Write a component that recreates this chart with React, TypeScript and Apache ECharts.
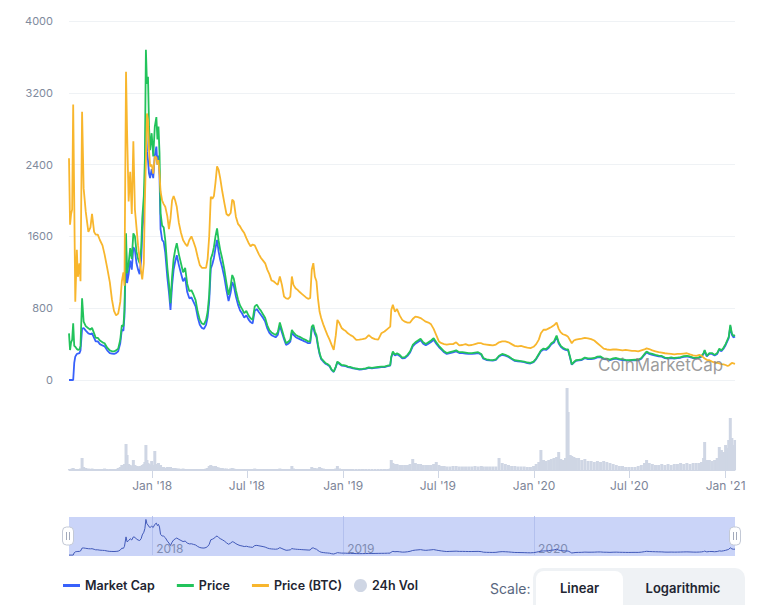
import React, { useEffect, useRef } from "react";
import * as echarts from "echarts";

const dates: string[] = [
  "2017-07-26","2017-07-28","2017-07-30","2017-08-01","2017-08-03","2017-08-05","2017-08-07","2017-08-10","2017-08-12","2017-08-15",
  "2017-08-17","2017-08-20","2017-08-23","2017-08-27","2017-09-01","2017-09-05","2017-09-08","2017-09-12","2017-09-15","2017-09-19",
  "2017-09-23","2017-09-28","2017-10-02","2017-10-07","2017-10-12","2017-10-16","2017-10-20","2017-10-24","2017-10-28","2017-11-01",
  "2017-11-04","2017-11-07","2017-11-09","2017-11-12","2017-11-14","2017-11-17","2017-11-20","2017-11-23","2017-11-26","2017-11-29",
  "2017-12-02","2017-12-05","2017-12-08","2017-12-11","2017-12-13","2017-12-16","2017-12-18","2017-12-20","2017-12-22","2017-12-24",
  "2017-12-26","2017-12-28","2017-12-31","2018-01-03","2018-01-06","2018-01-09","2018-01-11","2018-01-13","2018-01-15","2018-01-17",
  "2018-01-20","2018-01-23","2018-01-26","2018-01-30","2018-02-02","2018-02-05","2018-02-08","2018-02-11","2018-02-14","2018-02-17",
  "2018-02-21","2018-02-25","2018-03-01","2018-03-05","2018-03-09","2018-03-13","2018-03-17","2018-03-21","2018-03-25","2018-03-29",
  "2018-04-02","2018-04-06","2018-04-10","2018-04-14","2018-04-17","2018-04-20","2018-04-23","2018-04-26","2018-04-29","2018-05-02",
  "2018-05-05","2018-05-08","2018-05-11","2018-05-15","2018-05-19","2018-05-23","2018-05-27","2018-05-31","2018-06-03","2018-06-06",
  "2018-06-10","2018-06-14","2018-06-18","2018-06-22","2018-06-26","2018-06-30","2018-07-04","2018-07-08","2018-07-12","2018-07-16",
  "2018-07-20","2018-07-24","2018-07-28","2018-08-01","2018-08-05","2018-08-09","2018-08-13","2018-08-17","2018-08-21","2018-08-25",
  "2018-08-29","2018-09-02","2018-09-06","2018-09-10","2018-09-14","2018-09-18","2018-09-22","2018-09-25","2018-09-28","2018-10-02",
  "2018-10-06","2018-10-10","2018-10-14","2018-10-18","2018-10-22","2018-10-26","2018-10-30","2018-11-02","2018-11-05","2018-11-08",
  "2018-11-11","2018-11-14","2018-11-17","2018-11-20","2018-11-24","2018-11-28","2018-12-02","2018-12-06","2018-12-10","2018-12-14",
  "2018-12-18","2018-12-21","2018-12-25","2018-12-29","2019-01-02","2019-01-06","2019-01-10","2019-01-15","2019-01-20","2019-01-26",
  "2019-02-01","2019-02-07","2019-02-13","2019-02-19","2019-02-25","2019-03-03","2019-03-09","2019-03-15","2019-03-21","2019-03-27",
  "2019-04-01","2019-04-03","2019-04-06","2019-04-10","2019-04-14","2019-04-19","2019-04-24","2019-04-29","2019-05-04","2019-05-09",
  "2019-05-14","2019-05-19","2019-05-24","2019-05-29","2019-06-03","2019-06-08","2019-06-13","2019-06-18","2019-06-23","2019-06-28",
  "2019-07-03","2019-07-08","2019-07-13","2019-07-18","2019-07-24","2019-07-30","2019-08-05","2019-08-11","2019-08-17","2019-08-23",
  "2019-08-29","2019-09-04","2019-09-10","2019-09-16","2019-09-22","2019-09-26","2019-10-02","2019-10-08","2019-10-14","2019-10-20",
  "2019-10-26","2019-11-01","2019-11-07","2019-11-13","2019-11-19","2019-11-25","2019-12-01","2019-12-07","2019-12-13","2019-12-19",
  "2019-12-25","2019-12-31","2020-01-05","2020-01-10","2020-01-14","2020-01-19","2020-01-24","2020-01-29","2020-02-03","2020-02-08",
  "2020-02-13","2020-02-17","2020-02-21","2020-02-25","2020-03-01","2020-03-04","2020-03-06","2020-03-10","2020-03-13","2020-03-17",
  "2020-03-21","2020-03-26","2020-04-01","2020-04-07","2020-04-13","2020-04-19","2020-04-25","2020-05-01","2020-05-07","2020-05-13",
  "2020-05-19","2020-05-25","2020-05-31","2020-06-06","2020-06-12","2020-06-18","2020-06-24","2020-06-30","2020-07-06","2020-07-12",
  "2020-07-18","2020-07-24","2020-07-30","2020-08-03","2020-08-08","2020-08-14","2020-08-20","2020-08-26","2020-09-01","2020-09-07",
  "2020-09-13","2020-09-19","2020-09-25","2020-10-01","2020-10-07","2020-10-13","2020-10-19","2020-10-25","2020-10-31","2020-11-06",
  "2020-11-12","2020-11-16","2020-11-20","2020-11-22","2020-11-26","2020-12-01","2020-12-06","2020-12-11","2020-12-16","2020-12-20",
  "2020-12-24","2020-12-28","2021-01-01","2021-01-04","2021-01-07","2021-01-10","2021-01-13","2021-01-16","2021-01-19",
];

// Price in USD
const priceUSD: number[] = [
  520,334,420,446,631,380,371,345,335,340,
  380,910,650,600,576,560,580,520,470,470,
  440,420,410,360,330,320,318,330,350,450,
  610,600,780,1634,1189,1300,1470,1350,1634,1600,
  1430,1350,1300,1470,1800,2050,2450,3680,3300,3380,
  2820,2560,2750,2490,2823,2930,2680,2823,2530,1860,
  1720,1700,1560,1250,1080,856,1150,1350,1451,1525,
  1400,1300,1200,1250,1070,990,1000,950,890,760,
  670,630,620,670,760,950,1350,1400,1480,1600,
  1690,1550,1450,1350,1228,1080,950,1050,1170,1130,
  1000,900,830,790,744,770,720,688,670,820,
  840,800,770,730,690,610,555,530,515,502,
  530,640,560,480,410,425,450,558,530,505,
  490,480,468,455,445,430,430,595,614,540,
  500,390,300,242,215,190,178,160,115,93,
  150,205,186,167,165,160,150,145,135,128,
  122,125,130,141,135,140,145,149,150,160,
  167,260,316,285,298,280,250,255,280,320,
  390,420,440,460,420,400,420,440,465,420,
  380,350,320,300,310,320,330,310,310,305,
  300,300,305,310,290,245,230,225,222,230,
  270,290,280,265,240,220,215,210,205,195,
  190,205,240,290,330,350,345,370,410,430,
  495,420,380,360,345,342,340,250,175,200,
  220,225,230,250,240,240,245,260,262,240,
  238,228,240,245,235,230,225,222,225,228,
  225,245,290,316,300,290,280,272,268,250,
  245,252,245,250,255,265,270,262,250,245,
  255,268,300,335,270,300,300,280,300,350,
  330,360,400,440,480,614,520,490,500,
];

// Price in BTC
const priceBTC: number[] = [
  0.247,0.173,0.185,0.19,0.307,0.2,0.0873,0.145,0.115,0.13,
  0.11,0.299,0.2135,0.1876,0.165,0.17,0.185,0.165,0.162,0.162,
  0.156,0.15,0.14,0.125,0.109,0.09,0.077,0.072,0.074,0.087,
  0.11,0.12,0.105,0.3435,0.277,0.199,0.232,0.185,0.266,0.19,
  0.17,0.15,0.135,0.12,0.112,0.13,0.2,0.245,0.297,0.29,
  0.256,0.238,0.24,0.23,0.249,0.248,0.24,0.245,0.23,0.21,
  0.2,0.196,0.193,0.1823,0.168,0.18,0.2,0.205,0.2,0.193,
  0.175,0.164,0.156,0.152,0.149,0.156,0.16,0.154,0.147,0.137,
  0.128,0.125,0.125,0.125,0.135,0.16,0.204,0.202,0.205,0.22,
  0.238,0.234,0.225,0.21,0.197,0.185,0.183,0.186,0.2009,0.199,
  0.182,0.174,0.1711,0.167,0.1637,0.158,0.153,0.149,0.151,0.15,
  0.145,0.14,0.136,0.133,0.13,0.123,0.118,0.111,0.11,0.1079,
  0.106,0.1153,0.106,0.093,0.091,0.0905,0.093,0.1153,0.106,0.1023,
  0.1004,0.098,0.096,0.094,0.092,0.0905,0.0911,0.1228,0.1302,0.115,
  0.11,0.09,0.076,0.069,0.062,0.0558,0.05,0.045,0.0391,0.0335,
  0.05,0.067,0.0632,0.058,0.056,0.0545,0.052,0.05,0.0484,0.0446,
  0.045,0.0455,0.0465,0.05,0.047,0.0455,0.045,0.052,0.054,0.057,
  0.0595,0.0781,0.0837,0.076,0.079,0.072,0.067,0.065,0.064,0.064,
  0.068,0.0707,0.07,0.069,0.067,0.065,0.064,0.062,0.057,0.05,
  0.043,0.041,0.04,0.0395,0.04,0.04,0.042,0.0385,0.039,0.04,
  0.0385,0.039,0.04,0.041,0.041,0.04,0.0395,0.039,0.0385,0.0395,
  0.042,0.043,0.043,0.042,0.04,0.038,0.0375,0.038,0.037,0.036,
  0.0355,0.037,0.04,0.045,0.052,0.056,0.056,0.0575,0.059,0.061,
  0.064,0.057,0.053,0.051,0.05,0.049,0.048,0.044,0.041,0.044,
  0.045,0.0455,0.046,0.047,0.0465,0.0455,0.044,0.041,0.038,0.035,
  0.034,0.0335,0.034,0.034,0.0335,0.033,0.0335,0.033,0.0325,0.0325,
  0.032,0.033,0.034,0.0352,0.0345,0.033,0.032,0.031,0.0305,0.0298,
  0.0295,0.029,0.0285,0.029,0.029,0.0295,0.0298,0.0285,0.0275,0.027,
  0.028,0.027,0.025,0.024,0.0225,0.022,0.0205,0.0195,0.019,0.0185,
  0.0178,0.0175,0.0167,0.0158,0.016,0.0175,0.019,0.0185,0.018,
];

// Market cap, billions USD
const marketCap: number[] = [
  0,0,0,0,0,3.8,5.2,5.8,5.9,6.0,
  6.6,11.4,11.6,11.0,10.4,10.2,10.4,9.4,8.6,8.6,
  8.0,7.7,7.5,6.6,6.0,5.9,5.8,6.0,6.4,8.2,
  11.2,11.0,14.2,29.6,21.6,23.6,26.6,24.6,29.6,29.0,
  26.0,24.6,23.6,26.8,32.8,37.2,43.0,58.0,51.0,49.0,
  46.0,45.0,47.0,45.0,50.0,52.0,48.0,50.0,45.6,33.6,
  31.2,30.8,28.4,22.8,19.6,15.6,21.0,24.6,26.4,27.8,
  25.6,23.8,22.0,22.8,19.6,18.2,18.4,17.4,16.4,14.0,
  12.3,11.6,11.4,12.3,14.0,17.5,24.8,25.8,27.2,29.4,
  31.2,28.6,26.8,25.0,22.8,20.0,17.6,19.5,21.8,21.0,
  18.6,16.8,15.5,14.8,13.9,14.4,13.5,12.9,12.6,15.4,
  15.8,15.1,14.5,13.8,13.0,11.5,10.5,10.0,9.76,9.52,
  10.04,12.12,10.6,9.1,7.8,8.06,8.54,10.6,10.06,9.6,
  9.32,9.12,8.9,8.66,8.46,8.2,8.2,11.34,11.7,10.3,
  9.54,7.44,5.74,4.64,4.12,3.64,3.4,3.06,2.2,1.78,
  2.88,3.94,3.58,3.2,3.16,3.08,2.88,2.78,2.6,2.46,
  2.34,2.4,2.5,2.7,2.6,2.68,2.78,2.86,2.88,3.08,
  3.2,5.0,6.08,5.48,5.72,5.38,4.8,4.9,5.38,6.14,
  7.5,8.1,8.48,8.86,8.1,7.72,8.1,8.48,8.96,8.1,
  7.34,6.76,6.18,5.8,6.0,6.18,6.38,6.0,6.0,5.9,
  5.8,5.8,5.9,6.0,5.62,4.74,4.46,4.36,4.3,4.46,
  5.24,5.62,5.42,5.14,4.66,4.26,4.16,4.08,3.98,3.78,
  3.68,3.98,4.66,5.62,6.4,6.8,6.7,7.18,7.96,8.34,
  9.6,8.14,7.38,6.98,6.7,6.64,6.6,4.86,3.4,3.88,
  4.26,4.36,4.46,4.86,4.66,4.66,4.76,5.04,5.08,4.66,
  4.62,4.42,4.66,4.76,4.56,4.46,4.36,4.3,4.36,4.42,
  4.36,4.76,5.62,6.14,5.82,5.62,5.44,5.28,5.2,4.86,
  4.76,4.9,4.76,4.86,4.96,5.14,5.24,5.08,4.86,4.76,
  4.96,5.2,5.82,6.5,5.24,5.82,5.82,5.44,5.82,6.8,
  6.4,6.98,7.76,8.54,9.32,11.92,10.1,9.5,9.7,
];

// 24h volume, billions USD
const volume24h: number[] = [
  0.1,0.1,0.1,0.15,0.2,0.1,0.1,0.1,0.1,0.1,
  0.15,1.2,0.3,0.2,0.15,0.1,0.15,0.1,0.1,0.1,
  0.1,0.1,0.15,0.1,0.1,0.1,0.1,0.1,0.2,0.3,
  0.5,0.4,0.6,2.6,1.5,0.6,0.5,0.4,1.0,0.5,
  0.4,0.3,0.4,0.4,0.5,0.6,0.8,2.5,1.0,0.7,
  0.6,0.5,0.9,0.5,1.9,0.6,0.5,0.7,0.4,0.5,
  0.3,0.3,0.2,0.3,0.3,0.3,0.2,0.2,0.2,0.15,
  0.15,0.1,0.15,0.1,0.1,0.1,0.1,0.1,0.1,0.1,
  0.1,0.1,0.1,0.15,0.2,0.4,0.5,0.4,0.3,0.4,
  0.3,0.25,0.2,0.2,0.15,0.15,0.1,0.15,0.2,0.15,
  0.1,0.1,0.1,0.1,0.1,0.1,0.1,0.1,0.1,0.15,
  0.1,0.1,0.1,0.1,0.1,0.1,0.1,0.1,0.1,0.1,
  0.1,0.15,0.1,0.1,0.1,0.1,0.1,0.4,0.15,0.1,
  0.1,0.1,0.1,0.1,0.1,0.1,0.1,0.3,0.2,0.2,
  0.15,0.15,0.3,0.2,0.15,0.1,0.1,0.1,0.1,0.1,
  0.15,0.4,0.15,0.1,0.1,0.1,0.1,0.1,0.1,0.1,
  0.1,0.1,0.1,0.1,0.1,0.1,0.1,0.1,0.1,0.1,
  0.15,1.0,0.7,0.6,0.6,0.5,0.5,0.5,0.5,0.6,
  1.1,0.7,0.6,0.6,0.5,0.5,0.5,0.5,0.6,0.8,
  0.5,0.4,0.4,0.35,0.35,0.4,0.4,0.35,0.35,0.35,
  0.35,0.35,0.4,0.35,0.4,0.35,0.35,0.35,0.35,0.35,
  1.2,0.7,0.6,0.5,0.4,0.4,0.35,0.35,0.35,0.3,
  0.3,0.4,0.6,0.8,2.0,1.0,0.9,1.0,1.1,1.2,
  1.3,1.8,1.1,1.0,1.2,8.2,5.8,1.5,1.4,1.3,
  1.2,1.2,1.0,1.1,0.9,0.9,0.8,0.9,0.8,0.9,
  0.8,0.7,0.6,0.5,0.4,0.4,0.3,0.3,0.3,0.3,
  0.4,0.5,0.7,1.0,0.7,0.6,0.5,0.5,0.6,0.5,
  0.6,0.5,0.6,0.6,0.7,0.6,0.7,0.6,0.7,0.7,
  0.7,0.8,1.2,2.8,1.0,1.0,0.9,1.0,1.2,2.3,
  2.0,1.8,2.5,2.2,3.0,5.2,3.2,2.5,3.0,
];

const xTickDates: string[] = ["2018-01-01","2018-07-01","2019-01-01","2019-07-01","2020-01-01","2020-07-01","2021-01-01"];
const navigatorYears: string[] = ["2018-01-01","2019-01-01","2020-01-01"];
const legendNames: string[] = ["Market Cap","Price","Price (BTC)","24h Vol"];
const MONTHS: string[] = ["Jan","Feb","Mar","Apr","May","Jun","Jul","Aug","Sep","Oct","Nov","Dec"];

const toTs = (s: string) => {
  const [y, m, d] = s.split("-").map(Number);
  return Date.UTC(y, m - 1, d);
};

const FONT = "Inter, 'Noto Sans', sans-serif";

export default function App() {
  const ref = useRef<HTMLDivElement>(null);

  useEffect(() => {
    if (!ref.current) return;
    const chart = echarts.init(ref.current, undefined, { renderer: "svg" });
    const ts = dates.map(toTs);
    const xMin = ts[0];
    const xMax = ts[ts.length - 1];
    const pair = (arr: number[]) => arr.map((v, i) => [ts[i], v]);
    const tickTs = xTickDates.map(toTs);
    const yearTs = navigatorYears.map(toTs);

    const handle = (cx: number) => ({
      type: "group",
      z: 100,
      children: [
        { type: "rect", shape: { x: cx - 5.5, y: 527, width: 11, height: 18, r: 4 }, style: { fill: "#ffffff", stroke: "#c3c9d6", lineWidth: 1 } },
        { type: "line", shape: { x1: cx - 1.5, y1: 532, x2: cx - 1.5, y2: 540 }, style: { stroke: "#a3aabb", lineWidth: 1 } },
        { type: "line", shape: { x1: cx + 1.5, y1: 532, x2: cx + 1.5, y2: 540 }, style: { stroke: "#a3aabb", lineWidth: 1 } },
      ],
    });

    const legendText = { fontFamily: FONT, fontSize: 12.5, fontWeight: 600, color: "#222531" };

    const option: any = {
      animation: false,
      backgroundColor: "#ffffff",
      textStyle: { fontFamily: FONT },
      grid: [
        { left: 69, right: 30, top: 21, height: 359 },
        { left: 69, right: 30, top: 385, height: 85 },
        { left: 69, right: 30, top: 517, height: 39, show: true, backgroundColor: "#cad4f8", borderWidth: 0 },
      ],
      legend: [
        {
          left: 63,
          top: 579,
          padding: 0,
          itemWidth: 17,
          itemHeight: 3,
          itemGap: 22,
          selectedMode: false,
          icon: "rect",
          data: [legendNames[0], legendNames[1], legendNames[2]],
          textStyle: legendText,
        },
        {
          left: 354,
          top: 579,
          padding: 0,
          itemWidth: 13,
          itemHeight: 13,
          selectedMode: false,
          icon: "circle",
          data: [legendNames[3]],
          textStyle: legendText,
        },
      ],
      xAxis: [
        { type: "value", gridIndex: 0, min: xMin, max: xMax, show: false, splitLine: { show: false } },
        {
          type: "value",
          gridIndex: 1,
          min: xMin,
          max: xMax,
          axisLine: { show: true, onZero: false, lineStyle: { color: "#cfd6e4", width: 1 } },
          axisTick: { show: true, length: 8, customValues: tickTs, lineStyle: { color: "#cfd6e4" } },
          axisLabel: {
            customValues: tickTs,
            margin: 9,
            color: "#7d8598",
            fontSize: 12,
            fontFamily: FONT,
            formatter: (v: number) => {
              const d = new Date(v);
              return `${MONTHS[d.getUTCMonth()]} '${String(d.getUTCFullYear()).slice(2)}`;
            },
          },
          splitLine: { show: false },
        },
        {
          type: "value",
          gridIndex: 2,
          min: xMin,
          max: xMax,
          axisLine: { show: false },
          axisTick: { show: true, inside: true, length: 39, customValues: yearTs, lineStyle: { color: "#b3c0ee" } },
          axisLabel: {
            inside: true,
            customValues: yearTs,
            margin: 2,
            align: "left",
            padding: [0, 0, 0, 4],
            color: "#7f8cb3",
            fontSize: 12,
            fontFamily: FONT,
            formatter: (v: number) => String(new Date(v).getUTCFullYear()),
          },
          splitLine: { show: false },
        },
      ],
      yAxis: [
        {
          type: "value",
          gridIndex: 0,
          min: 0,
          max: 4000,
          interval: 800,
          axisLine: { show: false },
          axisTick: { show: false },
          axisLabel: { margin: 16, color: "#808a9d", fontSize: 11, fontFamily: FONT, formatter: (v: number) => String(v) },
          splitLine: { show: true, lineStyle: { color: "#eff2f5", width: 1 } },
        },
        { type: "value", gridIndex: 0, min: 0, max: 80, show: false, splitLine: { show: false } },
        { type: "value", gridIndex: 0, min: 0, max: 0.4, show: false, splitLine: { show: false } },
        { type: "value", gridIndex: 1, min: 0, max: 8.5, show: false, splitLine: { show: false } },
        { type: "value", gridIndex: 2, min: -1.5, max: 62, show: false, splitLine: { show: false } },
      ],
      series: [
        {
          name: legendNames[0],
          type: "line",
          xAxisIndex: 0,
          yAxisIndex: 1,
          data: pair(marketCap),
          symbol: "none",
          color: "#3861fb",
          lineStyle: { width: 1.8, color: "#3861fb" },
          silent: true,
        },
        {
          name: legendNames[1],
          type: "line",
          xAxisIndex: 0,
          yAxisIndex: 0,
          data: pair(priceUSD),
          symbol: "none",
          color: "#22c35b",
          lineStyle: { width: 1.8, color: "#22c35b" },
          silent: true,
        },
        {
          name: legendNames[2],
          type: "line",
          xAxisIndex: 0,
          yAxisIndex: 2,
          data: pair(priceBTC),
          symbol: "none",
          color: "#f8b62d",
          lineStyle: { width: 1.8, color: "#f8b62d" },
          silent: true,
        },
        {
          name: legendNames[3],
          type: "bar",
          xAxisIndex: 1,
          yAxisIndex: 3,
          data: pair(volume24h),
          barWidth: 3,
          color: "#cfd6e4",
          itemStyle: { color: "#cfd6e4" },
          silent: true,
        },
        {
          name: "Navigator",
          type: "line",
          xAxisIndex: 2,
          yAxisIndex: 4,
          data: pair(marketCap),
          symbol: "none",
          lineStyle: { width: 1, color: "#4159b8" },
          silent: true,
        },
      ],
      graphic: [
        {
          type: "text",
          x: 598,
          y: 365,
          z: 100,
          style: { text: "CoinMarketCap", fill: "rgba(130,130,130,0.8)", font: `17px ${FONT}`, verticalAlign: "middle" },
        },
        handle(68),
        handle(735),
        {
          type: "text",
          x: 490,
          y: 588,
          style: { text: "Scale:", fill: "#58667e", font: `14px ${FONT}`, verticalAlign: "middle" },
        },
        {
          type: "rect",
          shape: { x: 533, y: 568, width: 212, height: 50, r: 10 },
          style: { fill: "#eff2f5" },
        },
        {
          type: "rect",
          shape: { x: 536, y: 571, width: 87, height: 44, r: 8 },
          style: { fill: "#ffffff" },
        },
        {
          type: "text",
          x: 579.5,
          y: 588,
          style: { text: "Linear", fill: "#222531", font: `600 13px ${FONT}`, align: "center", verticalAlign: "middle" },
        },
        {
          type: "text",
          x: 683,
          y: 588,
          style: { text: "Logarithmic", fill: "#222531", font: `600 13px ${FONT}`, align: "center", verticalAlign: "middle" },
        },
      ],
    };

    chart.setOption(option);
    return () => chart.dispose();
  }, []);

  return <div ref={ref} style={{ position: "absolute", left: 0, top: 0, width: 765, height: 605 }} />;
}
